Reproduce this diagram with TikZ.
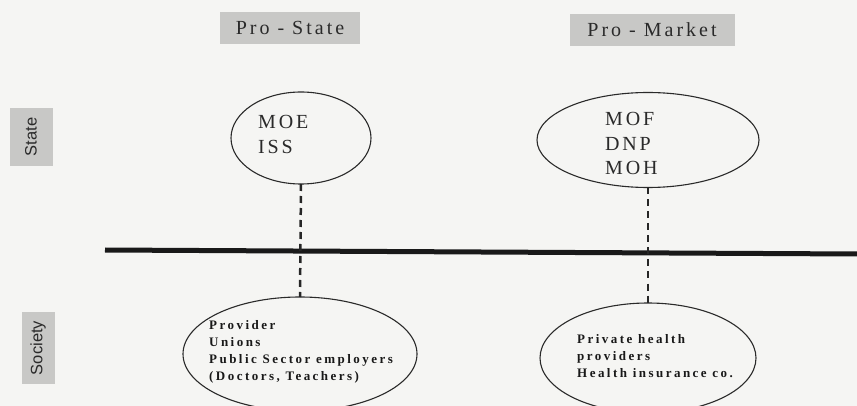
\documentclass[tikz,border=0pt]{standalone}
\usepackage{fontspec}
\setmainfont{Liberation Serif}
\newfontfamily\headfont{Liberation Serif}[LetterSpace=15]
\newfontfamily\orgfont{Liberation Serif}[LetterSpace=14]
\newfontfamily\actorfont{Liberation Serif}[LetterSpace=19]
\newfontfamily\sidefont{Liberation Sans}
\usetikzlibrary{shapes.geometric}
\definecolor{paper}{HTML}{F5F5F3}
\definecolor{tag}{HTML}{C8C8C6}
\definecolor{ink}{HTML}{2A2A2A}
\tikzset{
  headbox/.style={fill=tag, inner sep=0pt, minimum width=#1, minimum height=32pt,
    font=\headfont\fontsize{20}{22}\selectfont, text=ink},
  sidebox/.style={fill=tag, inner sep=0pt, rotate=90, minimum height=#1,
    font=\sidefont\fontsize{16.5}{19}\selectfont, text=ink},
  oval/.style={ellipse, draw=ink, line width=1.1pt, inner sep=0pt, outer sep=0pt},
  orgs/.style={align=left, inner sep=0pt, anchor=north west,
    font=\orgfont\fontsize{20}{24.5}\selectfont, text=ink},
  actors/.style={align=left, inner sep=0pt, anchor=north west,
    font=\actorfont\bfseries\fontsize{13}{17}\selectfont, text=black!90},
  divide/.style={line width=5pt, draw=black!90},
  tie/.style={line width=2.5pt, draw=black!85, dash pattern=on 7pt off 5pt}
}
\begin{document}
\begin{tikzpicture}[x=1pt,y=-1pt]
  \fill[paper] (0,0) rectangle (857,406);
  \useasboundingbox (0,0) rectangle (857,406);

  % column headings
  \node[headbox=140pt] (prostate) at (290,28) {Pro - State};
  \node[headbox=165pt] (promarket) at (652,30) {Pro - Market};

  % row labels
  \node[sidebox=43pt, minimum width=58pt] (staterow) at (31,137) {State};
  \node[sidebox=33pt, minimum width=72pt] (societyrow) at (38,348) {Society};

  % state agencies
  \node[oval, minimum width=140pt, minimum height=92pt] (moe) at (301,138) {};
  \node[orgs] (moetext) at (258,115.5) {MOE\\ISS};
  \node[oval, minimum width=222pt, minimum height=95pt] (mof) at (648,140) {};
  \node[orgs] (moftext) at (605,112.5) {MOF\\DNP\\MOH};

  % state / society divide
  \coordinate (lineL) at (105,250);
  \coordinate (lineR) at (857,254);
  \draw[divide] (lineL) -- (lineR);

  % societal actors
  \node[oval, minimum width=234pt, minimum height=114pt] (unions) at (300,354) {};
  \node[actors] (unionstext) at (209,320.5) {Provider\\Unions\\Public Sector employers\\(Doctors, Teachers)};
  \node[oval, minimum width=216pt, minimum height=110pt] (private) at (648,358) {};
  \node[actors] (privatetext) at (577,334.5) {Private health\\providers\\Health insurance co.};

  % alliances across the divide
  \draw[tie] (moe.south) -- (unions.north);
  \draw[tie] (mof.south) -- (private.north);
\end{tikzpicture}
\end{document}
